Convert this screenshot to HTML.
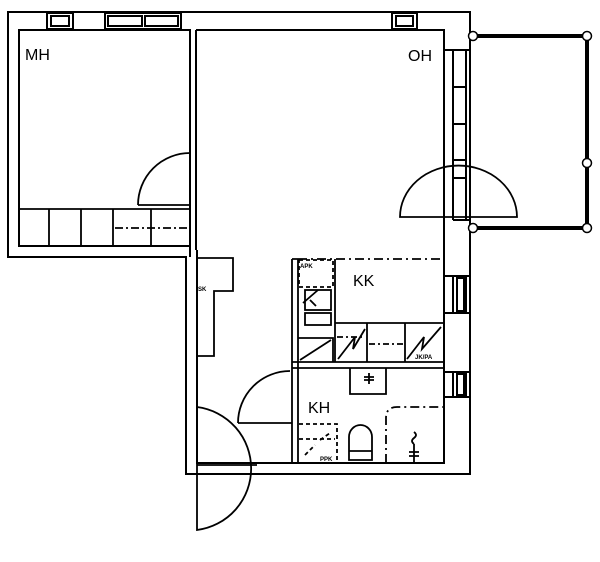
<!DOCTYPE html>
<html><head><meta charset="utf-8"><style>
html,body{margin:0;padding:0;background:#fff;}
svg{display:block}
text{font-family:"Liberation Sans",sans-serif;fill:#000}
</style></head><body>
<svg width="600" height="562" viewBox="0 0 600 562" xmlns="http://www.w3.org/2000/svg">
<g fill="none" stroke="#000" stroke-width="2">
<!-- outer wall outline -->
<path d="M8 12 H470 V474 H186 V257 H8 Z"/>
<!-- inner MH -->
<path d="M19 30 H190 V246 H19 Z"/>
<!-- OH inner -->
<path d="M196 30 H444 V463 H197 V250"/>
<path d="M196 30 V250"/>
<path d="M190 246 V257"/>
<!-- top windows -->
<rect x="47" y="13" width="26" height="16" fill="#fff"/>
<rect x="51" y="16" width="18" height="10"/>
<rect x="105" y="13" width="76" height="16" fill="#fff"/>
<rect x="108" y="16" width="34" height="10"/>
<rect x="145" y="16" width="33" height="10"/>
<rect x="392" y="13" width="25" height="16" fill="#fff"/>
<rect x="396" y="16" width="17" height="10"/>
<!-- right wall windows -->
<path d="M453 50 V220 M466 50 V220"/>
<path d="M444 50 H470 M453 87 H466 M453 124 H466 M453 160 H466 M453 178 H466 M453 220 H470"/>
<rect x="453" y="276" width="13" height="37"/>
<rect x="457" y="278" width="7" height="33"/>
<path d="M444 276 H470 M444 313 H470"/>
<rect x="453" y="372" width="13" height="25"/>
<rect x="457" y="374" width="7" height="21"/>
<path d="M444 372 H470 M444 397 H470"/>
<!-- balcony -->
<path d="M473 36 H587 V228 H473" stroke-width="4"/>
</g>
<g fill="#fff" stroke="#000" stroke-width="1.5">
<circle cx="473" cy="36" r="4.5"/><circle cx="587" cy="36" r="4.5"/>
<circle cx="587" cy="163" r="4.5"/><circle cx="587" cy="228" r="4.5"/>
<circle cx="473" cy="228" r="4.5"/>
</g>
<g fill="none" stroke="#000" stroke-width="1.8">
<!-- MH closet -->
<path d="M19 209 H190 M49 209 V246 M81 209 V246 M113 209 V246 M151 209 V246"/>
<path d="M115 228 H188" stroke-dasharray="8 3 2 3"/>
<!-- MH door -->
<path d="M138 205 A52 52 0 0 1 190 153 M138 205 H190"/>
<!-- balcony door -->
<path d="M400 217 A58 51 0 0 1 517 217 Z"/>
<!-- SK -->
<path d="M197 258 H233 V291 H214 V356 H197"/>
<!-- entry door -->
<path d="M197 407 V530 A62 62 0 0 0 197 407"/>
<path d="M197 465 H257 M197 474 H257"/>
<!-- hall door to KH -->
<path d="M238 423 A52 52 0 0 1 290 371 M238 423 H292"/>
<!-- kitchen/KH block -->
<path d="M292 259 V463 M298 259 V463 M292 259 H298"/>
<path d="M298 259 H443" stroke-dasharray="9 4 2 4"/>
<path d="M292 362 H444 M292 368 H444"/>
<path d="M335 259 V362 M335 323 H443 M367 323 V362 M405 323 V362"/>
<rect x="299" y="260" width="34" height="27" stroke-dasharray="4 3"/>
<rect x="305" y="290" width="26" height="20"/>
<rect x="305" y="313" width="26" height="12"/>
<path d="M298 338 H333 V362 M300 360 L331 340"/>
<path d="M337 337 H365 M369 344 H403" stroke-dasharray="6 3 2 3"/>
<path d="M338 359 L355 337 L353 349 L365 329"/>
<path d="M407 359 L424 337 L422 349 L441 327"/>
<path d="M303 303 L318 290 M310 300 L316 306"/>
<!-- KH -->
<path d="M350 368 V394 H386 V368"/>
<path d="M369 373 V384 M364 377 H374 M364 380 H374"/>
<path d="M349 460 V437 A11.5 12 0 0 1 372 437 V460 Z M349 451 H372"/>
<path d="M386 463 V418 Q386 407 397 407 H443" stroke-dasharray="9 4 2 4"/>
<path d="M299 424 H337 V460 M299 439 H335 M305 455 L315 445 M320 440 L330 433" stroke-dasharray="4 3"/>
<path d="M414 444 V462 M409 452 H419 M409 456 H419 M414 444 q-4 -3 0 -6 q4 -3 0 -6"/>
</g>
<g font-size="16">
<text x="25" y="60">MH</text>
<text x="408" y="61">OH</text>
<text x="353" y="286">KK</text>
<text x="308" y="413">KH</text>
</g>
<g font-size="6" font-weight="bold">
<text x="198" y="291">SK</text>
<text x="300" y="268">APK</text>
<text x="415" y="359">JK/PA</text>
<text x="320" y="461">PPK</text>
</g>
</svg>
</body></html>
